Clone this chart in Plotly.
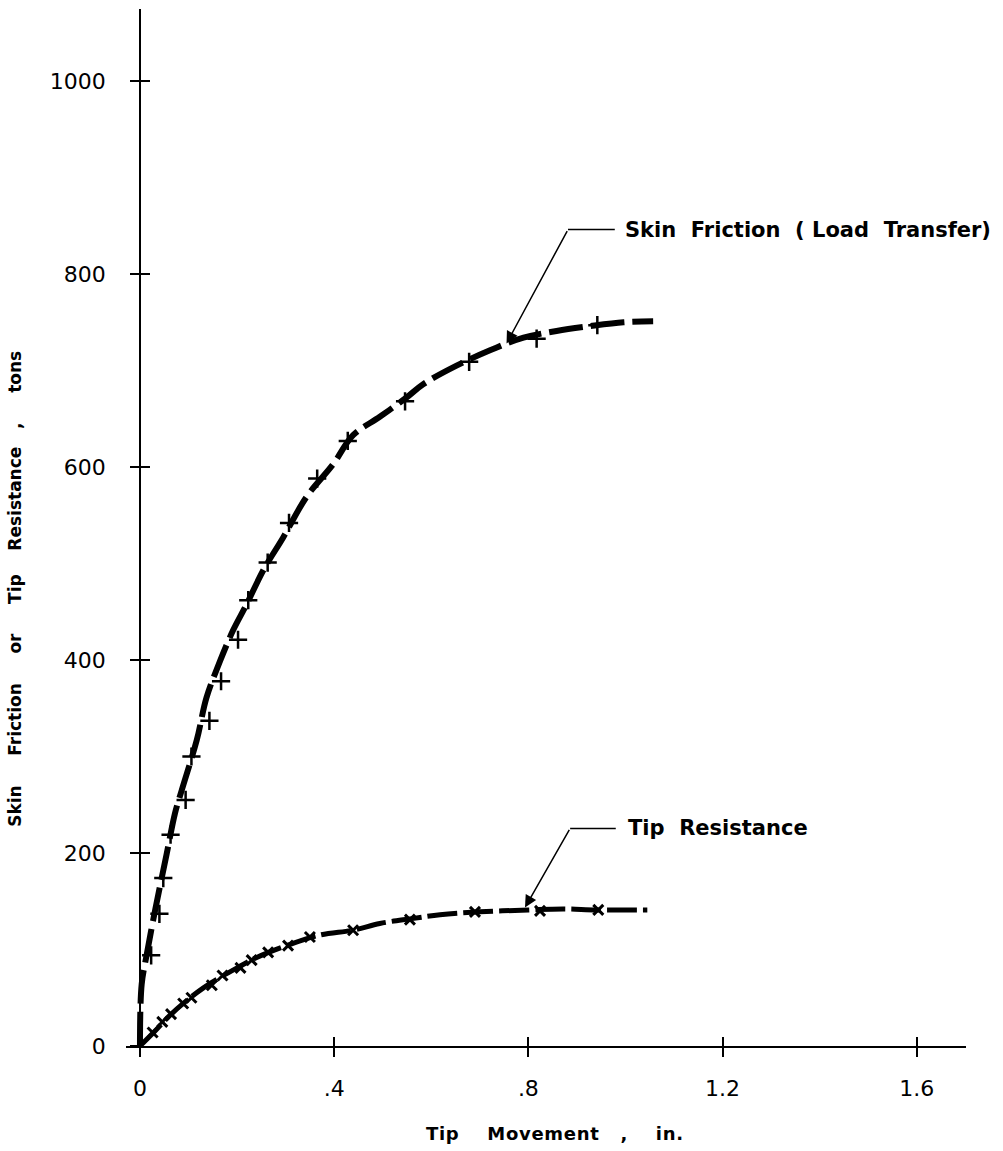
import plotly.graph_objects as go

# ---- data (tip movement in inches, load in tons) ----
skin_pts_x = [0.023, 0.040, 0.048, 0.063, 0.094, 0.106, 0.143, 0.167, 0.202, 0.223,
              0.263, 0.307, 0.365, 0.428, 0.546, 0.678, 0.817, 0.942]
skin_pts_y = [94, 137, 174, 219, 255, 300, 337, 378, 421, 462,
              501, 542, 588, 627, 668, 709, 733, 747]

skin_curve_x = [0.0, 0.0035, 0.014, 0.027, 0.041, 0.055, 0.072, 0.086, 0.117, 0.137,
                0.165, 0.192, 0.220, 0.254, 0.295, 0.343, 0.398, 0.439, 0.494, 0.549,
                0.584, 0.652, 0.721, 0.790, 0.858, 0.927, 0.996, 1.057]
skin_curve_y = [0, 64, 95, 130, 165, 199, 241, 265, 317, 361,
                399, 431, 458, 493, 527, 569, 603, 633, 652, 672,
                686, 705, 721, 734, 741, 746, 750, 751]

tip_pts_x = [0.026, 0.046, 0.064, 0.089, 0.106, 0.148, 0.170, 0.207, 0.230, 0.264,
             0.305, 0.350, 0.439, 0.556, 0.690, 0.824, 0.944]
tip_pts_y = [14, 25, 33, 44, 50, 63, 73, 81, 89, 97,
             104, 113, 120, 131, 139, 140, 141]

tip_curve_x = [0.0, 0.030, 0.060, 0.096, 0.130, 0.165, 0.200, 0.233, 0.270, 0.302,
               0.371, 0.439, 0.494, 0.560, 0.618, 0.700, 0.800, 0.872, 0.941, 1.045]
tip_curve_y = [0, 15, 31, 47, 60, 71, 81, 90, 98, 104,
               115, 120, 127, 132, 136, 139, 141, 142, 141, 141]

x_ticks = [0, 0.4, 0.8, 1.2, 1.6]
x_tick_text = ["0", ".4", ".8", "1.2", "1.6"]
y_ticks = [0, 200, 400, 600, 800, 1000]
y_tick_text = ["0", "200", "400", "600", "800", "1000"]

X_RANGE = [-0.0288, 1.7014]
Y_RANGE = [0, 1074.6]
Y_AXIS_POS = (0 - X_RANGE[0]) / (X_RANGE[1] - X_RANGE[0])

NB = "\u00a0"


def spaced(text, px):
    return f'<span style="letter-spacing:{px}px">{text}</span>'


fig = go.Figure()

# fitted curves (heavy dashed)
fig.add_trace(go.Scatter(x=skin_curve_x, y=skin_curve_y, mode="lines",
                         line=dict(color="black", width=6, dash="34px,8px", shape="spline"),
                         showlegend=False, hoverinfo="skip"))
fig.add_trace(go.Scatter(x=tip_curve_x, y=tip_curve_y, mode="lines",
                         line=dict(color="black", width=5, dash="30px,6px", shape="spline"),
                         showlegend=False, hoverinfo="skip"))
# measured points (drawn on the companion axes, which share the same ranges)
fig.add_trace(go.Scatter(x=skin_pts_x, y=skin_pts_y, mode="markers",
                         xaxis="x2", yaxis="y2",
                         marker=dict(symbol="cross-thin", size=13,
                                     line=dict(color="black", width=2.5)),
                         showlegend=False))
fig.add_trace(go.Scatter(x=tip_pts_x, y=tip_pts_y, mode="markers",
                         xaxis="x2", yaxis="y2",
                         marker=dict(symbol="x-thin", size=10,
                                     line=dict(color="black", width=3)),
                         showlegend=False))

tick_font = dict(family="DejaVu Sans", size=22, color="black")
tick_style = dict(ticklen=9, tickwidth=1.5, tickcolor="black")

fig.update_layout(
    width=1003, height=1151,
    margin=dict(l=126, r=37, t=9, b=105),
    paper_bgcolor="white", plot_bgcolor="white",
    xaxis=dict(range=X_RANGE, showgrid=False, zeroline=False,
               showline=True, linecolor="black", linewidth=1.5,
               tickmode="array", tickvals=x_ticks, ticktext=x_tick_text,
               ticks="outside", **tick_style,
               tickfont=tick_font, ticklabelstandoff=13),
    yaxis=dict(range=Y_RANGE, showgrid=False, zeroline=False,
               anchor="free", position=Y_AXIS_POS,
               showline=True, linecolor="black", linewidth=1.5,
               tickmode="array", tickvals=y_ticks, ticktext=y_tick_text,
               ticks="outside", **tick_style,
               tickfont=tick_font, ticklabelstandoff=20),
    # companion axes: same ranges, carrying the inner half of each cross tick
    xaxis2=dict(range=X_RANGE, overlaying="x", anchor="y2", side="bottom",
                showgrid=False, zeroline=False, showline=False,
                tickmode="array", tickvals=x_ticks,
                ticks="inside", **tick_style, showticklabels=False),
    yaxis2=dict(range=Y_RANGE, overlaying="y", anchor="free", position=Y_AXIS_POS,
                side="left", showgrid=False, zeroline=False, showline=False,
                tickmode="array", tickvals=y_ticks,
                ticks="inside", **tick_style, showticklabels=False),
)

title_font = dict(family="DejaVu Sans", size=18, color="black", weight="bold")
ytitle_font = dict(family="DejaVu Sans", size=17, color="black", weight="bold")
label_font = dict(family="DejaVu Sans", size=21, color="black", weight="bold")

# axis titles
fig.add_annotation(xref="paper", yref="paper", x=0.5107, y=-0.0844,
                   text=spaced(f"Tip{NB*4}Movement{NB*3},{NB*4}in.", 0.7),
                   showarrow=False, font=title_font, xanchor="center", yanchor="middle")
fig.add_annotation(xref="paper", yref="paper", x=-0.132, y=0.441,
                   text=(f"Skin{NB*5}Friction{NB*5}or{NB*5}Tip{NB*4}Resistance"
                         f"{NB*3},{NB*5}tons"),
                   textangle=-90, showarrow=False,
                   font=ytitle_font, xanchor="center", yanchor="middle")

# callouts with leader lines
callouts = [
    dict(head=(0.755, 728), elbow=(0.8816, 846), end=(0.978, 846),
         text=f"Skin{NB*2}Friction{NB*2}({NB}Load{NB*2}Transfer)", tx=0.995),
    dict(head=(0.793, 143.5), elbow=(0.886, 225.4), end=(0.980, 225.4),
         text=f"Tip{NB*2}Resistance", tx=1.002),
]
for c in callouts:
    fig.add_annotation(x=c["head"][0], y=c["head"][1], ax=c["elbow"][0], ay=c["elbow"][1],
                       xref="x", yref="y", axref="x", ayref="y", text="",
                       showarrow=True, arrowhead=2, arrowsize=1.6, arrowwidth=1.5,
                       arrowcolor="black", standoff=0)
    fig.add_shape(type="line", xref="x", yref="y",
                  x0=c["elbow"][0], y0=c["elbow"][1], x1=c["end"][0], y1=c["end"][1],
                  line=dict(color="black", width=1.5))
    fig.add_annotation(x=c["tx"], y=c["end"][1], xref="x", yref="y",
                       text=c["text"], showarrow=False, font=label_font,
                       xanchor="left", yanchor="middle")

fig.write_html("out.html")
